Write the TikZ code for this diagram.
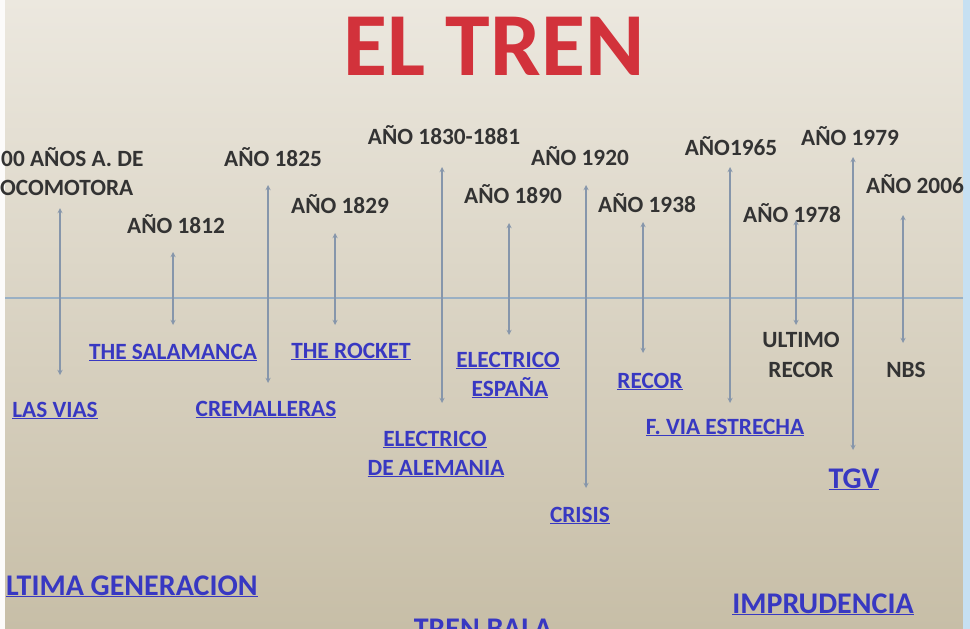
\documentclass[tikz,border=0pt]{standalone}
\usepackage{fontspec}
\setmainfont{Carlito}
\usepackage{tikz}
\usetikzlibrary{arrows,positioning}

\definecolor{fondoarriba}{HTML}{ECE8DF}
\definecolor{fondoabajo}{HTML}{C7BEA7}
\definecolor{ejeazul}{HTML}{9AB0C4}
\definecolor{flechagris}{HTML}{8696AB}
\definecolor{enlace}{HTML}{3838C2}
\definecolor{negro}{HTML}{333333}
\definecolor{rojo}{HTML}{D2323B}
\definecolor{bordeazul}{HTML}{C6E0F2}

\begin{document}
\begin{tikzpicture}[x=1pt,y=-1pt,
  anio/.style={anchor=base, inner sep=0pt, text=negro, font=\bfseries\fontsize{23.3}{28}\selectfont},
  link/.style={anchor=base, inner sep=0pt, text=enlace, font=\bfseries\fontsize{23.3}{28}\selectfont},
  grande/.style={anchor=base, inner sep=0pt, text=enlace, font=\bfseries\fontsize{30}{36}\selectfont},
  flecha/.style={<->, >=stealth, draw=flechagris, line width=1.3pt}]
\useasboundingbox (0,0) rectangle (970,629);
\clip (0,0) rectangle (970,629);
\shade[top color=fondoarriba, bottom color=fondoabajo] (0,0) rectangle (970,629);
\fill[white!85!fondoarriba] (0,0) rectangle (5,629);
\fill[bordeazul] (963,0) rectangle (970,629);

\node[anchor=base, inner sep=0pt, text=rojo, font=\bfseries\fontsize{90}{100}\selectfont] (titulo) at (494,75) {EL TREN};

\draw[ejeazul, line width=1.3pt] (5,298) -- (963,298);

\node[anio, anchor=base west] (a1a) at (1,166) {00 AÑOS A. DE};
\node[anio, anchor=base west] (a1b) at (0,195) {OCOMOTORA};
\node[anio] (a2) at (176,233) {AÑO 1812};
\node[anio] (a3) at (273,166) {AÑO 1825};
\node[anio] (a4) at (340,213) {AÑO 1829};
\node[anio] (a5) at (444,144) {AÑO 1830-1881};
\node[anio] (a6) at (513,203) {AÑO 1890};
\node[anio] (a7) at (580,165) {AÑO 1920};
\node[anio] (a8) at (647,212) {AÑO 1938};
\node[anio] (a9) at (731,155) {AÑO1965};
\node[anio] (a10) at (792,222) {AÑO 1978};
\node[anio] (a11) at (850,145) {AÑO 1979};
\node[anio] (a12) at (915,193) {AÑO 2006};

\node[link] (e1) at (55,417) {\underline{LAS VIAS}};
\node[link] (e2) at (173,359) {\underline{THE SALAMANCA}};
\node[link] (e3) at (266,416) {\underline{CREMALLERAS}};
\node[link] (e4) at (351,358) {\underline{THE ROCKET}};
\node[link] (e5a) at (435,446) {\underline{ELECTRICO}};
\node[link] (e5b) at (436,475) {\underline{DE ALEMANIA}};
\node[link] (e6a) at (508,367) {\underline{ELECTRICO}};
\node[link] (e6b) at (510,396) {\underline{ESPAÑA}};
\node[link] (e7) at (580,522) {\underline{CRISIS}};
\node[link] (e8) at (650,388) {\underline{RECOR}};
\node[link] (e9) at (725,434) {\underline{F. VIA ESTRECHA}};
\node[anio] (e10a) at (801,347) {ULTIMO};
\node[anio] (e10b) at (801,377) {RECOR};
\node[grande] (e11) at (854,488) {\underline{TGV}};
\node[anio] (e12) at (906,377) {NBS};

\node[grande, anchor=base west] (ultima) at (6,595) {\underline{LTIMA GENERACION}};
\node[grande] (imprudencia) at (823,613) {\underline{IMPRUDENCIA}};
\node[grande, anchor=north] (bala) at (483,619) {TREN BALA};

\coordinate (t1) at (60,208);
\coordinate (b1) at (60,375);
\coordinate (t2) at (173,252);
\coordinate (b2) at (173,325);
\coordinate (t3) at (268,185);
\coordinate (b3) at (268,383);
\coordinate (t4) at (335,233);
\coordinate (b4) at (335,325);
\coordinate (t5) at (442,167);
\coordinate (b5) at (442,403);
\coordinate (t6) at (509,223);
\coordinate (b6) at (509,335);
\coordinate (t7) at (586,185);
\coordinate (b7) at (586,488);
\coordinate (t8) at (643,222);
\coordinate (b8) at (643,353);
\coordinate (t9) at (730,167);
\coordinate (b9) at (730,403);
\coordinate (t10) at (796,220);
\coordinate (b10) at (796,325);
\coordinate (t11) at (853,157);
\coordinate (b11) at (853,450);
\coordinate (t12) at (903,215);
\coordinate (b12) at (903,343);

\draw[flecha] (t1) -- (b1);
\draw[flecha] (t2) -- (b2);
\draw[flecha] (t3) -- (b3);
\draw[flecha] (t4) -- (b4);
\draw[flecha] (t5) -- (b5);
\draw[flecha] (t6) -- (b6);
\draw[flecha] (t7) -- (b7);
\draw[flecha] (t8) -- (b8);
\draw[flecha] (t9) -- (b9);
\draw[flecha] (t10) -- (b10);
\draw[flecha] (t11) -- (b11);
\draw[flecha] (t12) -- (b12);
\end{tikzpicture}
\end{document}
